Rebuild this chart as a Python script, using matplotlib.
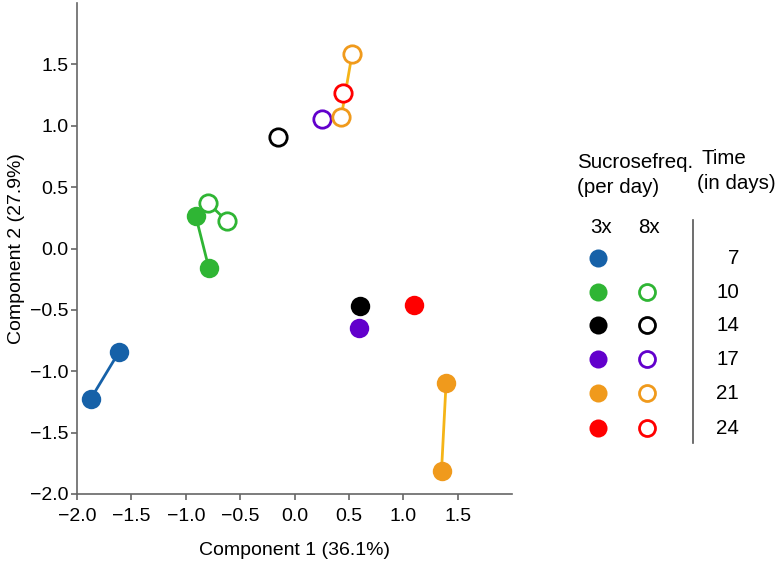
import matplotlib
matplotlib.use("Agg")
import matplotlib.pyplot as plt

plt.rcParams['font.family'] = ['Liberation Sans', 'DejaVu Sans']

# time points (days) and their colours
time_days = [7, 10, 14, 17, 21, 24]
colors = ['#1661a8', '#2fb534', '#000000', '#6200cc', '#f09a1c', '#ff0000']
line_colors = ['#1661a8', '#2fb534', '#000000', '#6200cc', '#f5b417', '#ff0000']

# 3x sucrose per day (filled), one list per time point
x_3x = [[-1.874, -1.614], [-0.909, -0.787], [0.604], [0.595], [1.394, 1.352], [1.100]]
y_3x = [[-1.225, -0.843], [0.268, -0.162], [-0.468], [-0.651], [-1.092, -1.809], [-0.462]]

# 8x sucrose per day (open)
x_8x = [[], [-0.793, -0.619], [-0.155], [0.249], [0.530, 0.429], [0.442]]
y_8x = [[], [0.370, 0.221], [0.908], [1.052], [1.587, 1.068], [1.265]]

xticks = [-2.0, -1.5, -1.0, -0.5, 0.0, 0.5, 1.0, 1.5]
yticks = [-2.0, -1.5, -1.0, -0.5, 0.0, 0.5, 1.0, 1.5]

W, H = 781, 561
fig = plt.figure(figsize=(W / 100, H / 100), dpi=100)
ax = fig.add_axes([77 / W, 1 - 494 / H, (512 - 77) / W, (494 - 3) / H])

ms = 14
for i in range(len(time_days)):
    if x_3x[i]:
        ax.plot(x_3x[i], y_3x[i], '-', color=line_colors[i], lw=2, zorder=2)
        ax.plot(x_3x[i], y_3x[i], 'o', color=colors[i], ms=ms, mec='none', zorder=3)
for i in range(len(time_days)):
    if x_8x[i]:
        ax.plot(x_8x[i], y_8x[i], '-', color=line_colors[i], lw=2, zorder=4)
        ax.plot(x_8x[i], y_8x[i], 'o', mfc='white', mec=colors[i], mew=2,
                ms=ms - 1.5, zorder=5)

ax.set_xlim(-2.0, 2.0)
ax.set_ylim(-2.0, 2.0)
ax.set_xticks(xticks)
ax.set_yticks(yticks)
ax.set_xticklabels([f'{t:.1f}'.replace('-', '\u2212') for t in xticks])
ax.set_yticklabels([f'{t:.1f}'.replace('-', '\u2212') for t in yticks])
for s in ['top', 'right']:
    ax.spines[s].set_visible(False)
for s in ['left', 'bottom']:
    ax.spines[s].set_color('#666666')
    ax.spines[s].set_linewidth(1.2)
ax.tick_params(colors='#666666', labelcolor='black', labelsize=14, length=4, width=1.2, pad=2)
ax.tick_params(axis='x', pad=6)
ax.set_xlabel('Component 1 (36.1%)', fontsize=14, labelpad=12)
ax.set_ylabel('Component 2 (27.9%)', fontsize=14, labelpad=4)

# hand-built legend on an overlay axes in pixel coordinates
lg = fig.add_axes([0, 0, 1, 1])
lg.set_xlim(0, W)
lg.set_ylim(H, 0)
lg.axis('off')
fs = 14.8
lg.text(577, 162, 'Sucrosefreq.', fontsize=fs, ha='left', va='center')
lg.text(577, 187, '(per day)', fontsize=fs, ha='left', va='center')
lg.text(701, 158, 'Time', fontsize=fs, ha='left', va='center')
lg.text(697, 183, '(in days)', fontsize=fs, ha='left', va='center')
lg.text(601, 227, '3x', fontsize=fs, ha='center', va='center')
lg.text(649, 227, '8x', fontsize=fs, ha='center', va='center')
lg.plot([693, 693], [220, 443], color='#555555', lw=1.2)
row_y = [258, 292, 325, 359, 393, 428]
for i, day in enumerate(time_days):
    lg.plot([598], [row_y[i]], 'o', color=colors[i], ms=13, mec='none')
    if x_8x[i]:
        lg.plot([647], [row_y[i]], 'o', mfc='white', mec=colors[i], mew=2, ms=11.5)
    lg.text(739, row_y[i], str(day), fontsize=fs, ha='right', va='center')

fig.savefig('out.png', dpi=100)
